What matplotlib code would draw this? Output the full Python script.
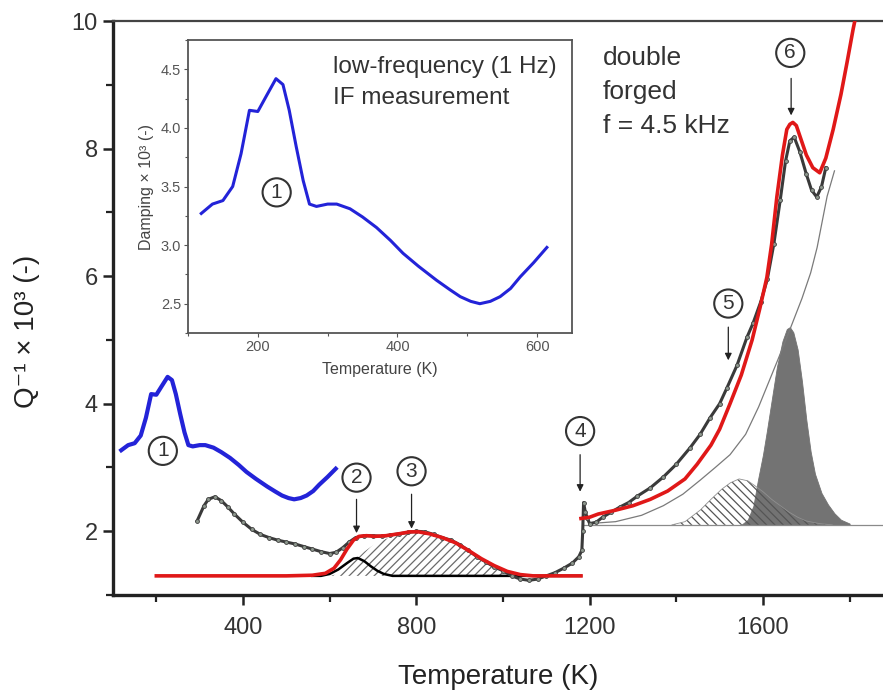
import matplotlib
matplotlib.use("Agg")
import matplotlib.pyplot as plt
from matplotlib.ticker import MultipleLocator

plt.rcParams['font.family'] = ['Liberation Sans', 'DejaVu Sans']
plt.rcParams['hatch.linewidth'] = 0.9

# ---------------- data ----------------
# low-frequency (1 Hz) IF measurement (also shown in main panel)
blue_T = [119, 135, 150, 164, 176, 188, 200, 212, 226, 236, 245, 255, 265, 274, 284,
          300, 313, 332, 350, 370, 390, 408, 430, 456, 475, 490, 505, 518, 533, 547,
          562, 576, 595, 614]
blue_Q = [3.27, 3.35, 3.38, 3.50, 3.78, 4.15, 4.14, 4.27, 4.42, 4.37, 4.15, 3.84, 3.55, 3.35, 3.33,
          3.35, 3.35, 3.31, 3.24, 3.15, 3.04, 2.93, 2.82, 2.70, 2.62, 2.56, 2.52, 2.50, 2.52, 2.56,
          2.63, 2.73, 2.85, 2.98]

# measured damping, double forged, f = 4.5 kHz
data_T = [294, 310, 320, 335, 350, 365, 380, 400, 420, 440, 460, 480, 500, 520, 540, 560,
          580, 600, 615, 630, 645, 660, 680, 700, 720, 740, 760, 780, 800, 820, 840, 860,
          880, 900, 920, 940, 960, 980, 1000, 1020, 1040, 1060, 1080, 1100, 1120, 1140,
          1160, 1175, 1182, 1184, 1186, 1190, 1195, 1200, 1215, 1230, 1250, 1270, 1290,
          1310, 1340, 1370, 1400, 1432, 1455, 1478, 1500, 1517, 1540, 1563, 1577, 1595,
          1610, 1625, 1640, 1652, 1662, 1672, 1685, 1700, 1712, 1724, 1735, 1745]
data_Q = [2.16, 2.40, 2.50, 2.54, 2.48, 2.38, 2.27, 2.14, 2.03, 1.95, 1.90, 1.86, 1.83, 1.80, 1.76, 1.72,
          1.68, 1.65, 1.67, 1.74, 1.83, 1.90, 1.93, 1.93, 1.92, 1.94, 1.96, 1.98, 2.00, 1.99, 1.95, 1.90,
          1.86, 1.79, 1.70, 1.60, 1.52, 1.44, 1.38, 1.30, 1.25, 1.23, 1.25, 1.30, 1.35, 1.42,
          1.50, 1.60, 1.70, 2.00, 2.45, 2.30, 2.20, 2.12, 2.14, 2.22, 2.30, 2.38, 2.45,
          2.55, 2.68, 2.85, 3.05, 3.31, 3.52, 3.78, 4.00, 4.25, 4.60, 5.04, 5.26, 5.60,
          5.95, 6.50, 7.20, 7.80, 8.12, 8.18, 7.95, 7.60, 7.35, 7.24, 7.40, 7.70]

# fit, low-temperature part
redlo_T = [200, 300, 400, 500, 560, 590, 610, 625, 640, 655, 668, 685, 705, 730, 760, 785,
           805, 830, 860, 890, 920, 950, 980, 1010, 1040, 1070, 1100, 1140, 1180]
redlo_Q = [1.30, 1.30, 1.30, 1.30, 1.31, 1.34, 1.42, 1.55, 1.72, 1.86, 1.92, 1.93, 1.92, 1.93, 1.96, 1.99,
           1.99, 1.96, 1.90, 1.82, 1.70, 1.57, 1.46, 1.37, 1.32, 1.30, 1.30, 1.30, 1.30]

# fit, high-temperature part
redhi_T = [1180, 1200, 1220, 1260, 1300, 1340, 1380, 1420, 1448, 1480, 1500, 1524, 1550, 1575,
           1593, 1609, 1620, 1632, 1645, 1655, 1662, 1669, 1677, 1685, 1700, 1715, 1731, 1745,
           1762, 1780, 1794, 1808, 1818]
redhi_Q = [2.20, 2.22, 2.27, 2.33, 2.40, 2.50, 2.63, 2.82, 3.05, 3.35, 3.60, 4.00, 4.45, 5.00,
           5.50, 5.98, 6.50, 7.24, 7.90, 8.30, 8.38, 8.41, 8.36, 8.20, 7.90, 7.70, 7.62, 7.85,
           8.30, 8.85, 9.35, 9.87, 10.20]

# peak 2 (black line over baseline)
p2_T = [560, 580, 600, 620, 640, 655, 665, 680, 695, 710, 725, 745, 800, 900, 1000, 1100, 1180]
p2_Q = [1.30, 1.30, 1.33, 1.40, 1.50, 1.57, 1.58, 1.53, 1.45, 1.38, 1.33, 1.30, 1.30, 1.30, 1.30, 1.30, 1.30]

# peak 3 (hatched)
p3_T = [600, 620, 640, 660, 680, 700, 730, 760, 790, 820, 850, 880, 910, 940, 970, 1000, 1030, 1060, 1100]
p3_Q = [1.30, 1.33, 1.42, 1.55, 1.68, 1.78, 1.88, 1.95, 1.98, 1.97, 1.93, 1.85, 1.75, 1.62, 1.50, 1.41, 1.35, 1.31, 1.30]
base_lo = 1.30

# high-temperature background
bg_T = [1200, 1260, 1320, 1370, 1415, 1455, 1490, 1524, 1560, 1590, 1620, 1650, 1670, 1690,
        1710, 1725, 1748, 1765]
bg_Q = [2.12, 2.15, 2.25, 2.40, 2.58, 2.80, 3.00, 3.20, 3.52, 3.95, 4.45, 4.95, 5.30, 5.65,
        6.05, 6.45, 7.25, 7.65]
base_hi = 2.10
base_hi_T = [1185, 1877]

# peak 5 (hatched)
p5_T = [1390, 1420, 1455, 1480, 1505, 1525, 1545, 1565, 1580, 1600, 1620, 1640, 1660, 1680, 1700, 1730, 1760]
p5_Q = [2.10, 2.15, 2.33, 2.50, 2.66, 2.76, 2.82, 2.79, 2.72, 2.62, 2.50, 2.40, 2.30, 2.22, 2.16, 2.12, 2.10]

# peak 6 (dark grey)
p6_T = [1550, 1565, 1578, 1588, 1600, 1609, 1620, 1632, 1645, 1655, 1662, 1670, 1680, 1690,
        1700, 1710, 1720, 1735, 1750, 1765, 1780, 1800]
p6_Q = [2.10, 2.18, 2.40, 2.79, 3.20, 3.57, 4.05, 4.57, 4.98, 5.17, 5.20, 5.12, 4.85, 4.35,
        3.75, 3.25, 2.90, 2.60, 2.42, 2.28, 2.18, 2.12]

# circled labels: (label, T, Q, arrow start Q, arrow end Q)
labels = ["1", "2", "3", "4", "5", "6"]
lab_T = [215, 662, 789, 1178, 1520, 1663]
lab_Q = [3.26, 2.84, 2.94, 3.57, 5.57, 9.50]
arr_Q0 = [None, 2.50, 2.58, 3.20, 5.20, 9.10]
arr_Q1 = [None, 1.97, 2.04, 2.62, 4.68, 8.52]

# ---------------- figure ----------------
W, H = 883, 695
fig = plt.figure(figsize=(W / 100, H / 100), dpi=100)
ax = fig.add_axes([113 / W, 1 - 595 / H, (W - 113) / W, (595 - 21) / H])
ax.set_xlim(100, 1877)
ax.set_ylim(1, 10)

# fills
ax.fill_between(p3_T, base_lo, p3_Q, facecolor='white', edgecolor='#6a6a6a',
                hatch='////', linewidth=0, zorder=1)
ax.fill_between(p6_T, base_hi, p6_Q, facecolor='#737373', edgecolor='#737373',
                linewidth=0.6, zorder=1)
ax.fill_between(p5_T, base_hi, p5_Q, facecolor='none', edgecolor='#555555',
                hatch='\\\\\\\\', linewidth=0, zorder=1.2)
ax.plot(p5_T, p5_Q, color='#909090', lw=0.6, zorder=1.3)
ax.plot(base_hi_T, [base_hi, base_hi], color='#8a8a8a', lw=0.9, zorder=1.5)
ax.plot(bg_T, bg_Q, color='#7a7a7a', lw=0.9, zorder=1.5)

# peak 2 line
ax.plot(p2_T, p2_Q, color='black', lw=1.8, zorder=2)

# measured data
ax.plot(data_T, data_Q, '-', color='#3a3a3a', lw=2.2, zorder=3)
ax.plot(data_T, data_Q, 'o', ms=2.8, mfc='#8c968c', mec='#404040', mew=0.6, zorder=3.1)

# fits
ax.plot(redlo_T, redlo_Q, color='#e01818', lw=2.6, zorder=4)
ax.plot(redhi_T, redhi_Q, color='#e01818', lw=2.6, zorder=4)

# blue
ax.plot(blue_T, blue_Q, color='#2323d8', lw=3.0, zorder=4)

# annotations
for lab, t, q, q0, q1 in zip(labels, lab_T, lab_Q, arr_Q0, arr_Q1):
    ax.text(t, q, lab, fontsize=15, ha='center', va='center', color='#333333', zorder=6,
            bbox=dict(boxstyle='circle,pad=0.22', fc='white', ec='#333333', lw=1.5))
    if q0 is not None:
        xa = t + 2 if lab == '6' else t
        ax.annotate('', xy=(xa, q1), xytext=(xa, q0),
                    arrowprops=dict(arrowstyle='-|>', color='#222222', lw=0.9,
                                    mutation_scale=10, shrinkA=0, shrinkB=0), zorder=6)

fig.text(603 / W, 1 - 46 / H, "double\nforged\nf = 4.5 kHz", fontsize=19,
         va='top', ha='left', color='#333333', linespacing=1.52)

# axes styling
for s in ['left', 'bottom']:
    ax.spines[s].set_linewidth(2.4)
    ax.spines[s].set_color('#222222')
ax.spines['top'].set_linewidth(1.6)
ax.spines['top'].set_color('#444444')
ax.spines['right'].set_visible(False)
ax.xaxis.set_major_locator(MultipleLocator(400))
ax.xaxis.set_minor_locator(MultipleLocator(200))
ax.yaxis.set_major_locator(MultipleLocator(2))
ax.yaxis.set_minor_locator(MultipleLocator(1))
ax.tick_params(which='major', length=7, width=1.8, labelsize=17, colors='#222222',
               labelcolor='#333333')
ax.tick_params(axis='x', which='major', pad=9)
ax.tick_params(axis='y', which='major', pad=4)
ax.tick_params(which='minor', length=5, width=1.6, colors='#222222')
ax.tick_params(top=False, right=False, which='both')
ax.set_xlabel("Temperature (K)", fontsize=20, color='#222222', labelpad=18)
ax.set_ylabel("Q⁻¹ × 10³ (-)", fontsize=20, color='#222222')
ax.yaxis.set_label_coords(-0.095, 0.46)

# ---------------- inset ----------------
ax2 = fig.add_axes([188 / W, 1 - 333 / H, (572 - 188) / W, (333 - 40) / H])
ax2.set_xlim(100, 650)
ax2.set_ylim(2.25, 4.75)
ax2.plot(blue_T, blue_Q, color='#2323d8', lw=2.2)
ax2.text(227, 3.45, "1", fontsize=15, ha='center', va='center', color='#333333',
         bbox=dict(boxstyle='circle,pad=0.22', fc='white', ec='#333333', lw=1.5))
ax2.text(0.378, 0.945, "low-frequency (1 Hz)\nIF measurement", transform=ax2.transAxes,
         fontsize=17.5, va='top', ha='left', color='#333333', linespacing=1.55)
for s in ax2.spines.values():
    s.set_linewidth(1.3)
    s.set_color('#555555')
ax2.xaxis.set_major_locator(MultipleLocator(200))
ax2.xaxis.set_minor_locator(MultipleLocator(100))
ax2.yaxis.set_major_locator(MultipleLocator(0.5))
ax2.yaxis.set_minor_locator(MultipleLocator(0.25))
ax2.yaxis.set_major_formatter(matplotlib.ticker.FormatStrFormatter('%.1f'))
ax2.tick_params(which='major', length=3, width=0.8, labelsize=10.5, colors='#555555',
                labelcolor='#555555', pad=2)
ax2.tick_params(which='minor', length=2, width=0.8, colors='#555555')
ax2.set_xlabel("Temperature (K)", fontsize=11.5, color='#444444', labelpad=6)
ax2.set_ylabel("Damping × 10³ (-)", fontsize=11.5, color='#444444', labelpad=5)

fig.savefig("out.png", dpi=100)
